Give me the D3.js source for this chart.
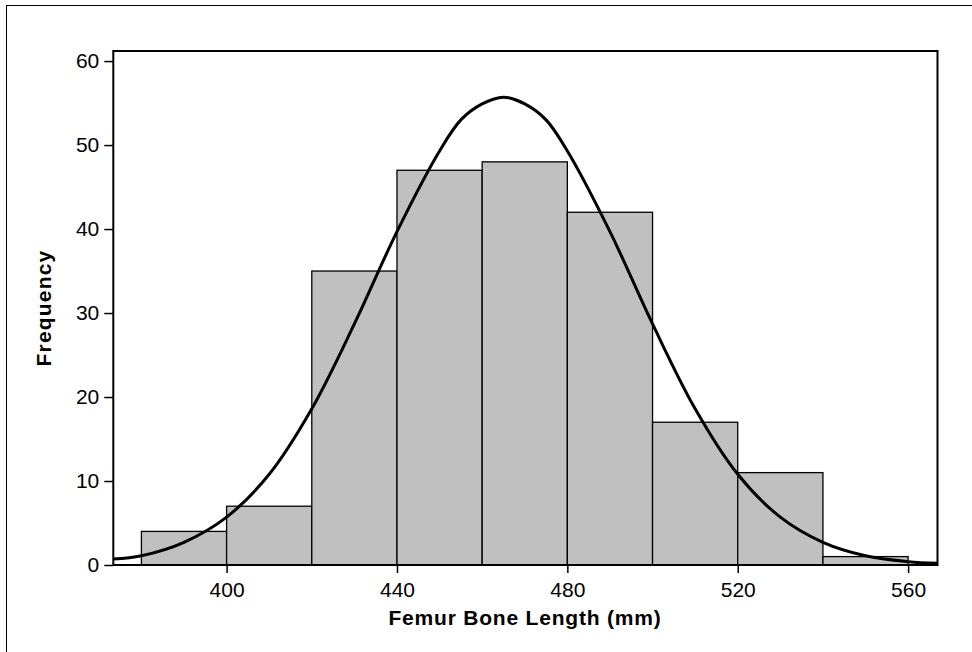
<!DOCTYPE html>
<html>
<head>
<meta charset="utf-8">
<script src="https://cdn.jsdelivr.net/npm/d3@7"></script>
<style>
  html, body { margin: 0; padding: 0; background: #fff; }
  svg { display: block; font-family: "Liberation Sans", Arial, sans-serif; }
</style>
</head>
<body>
<svg id="chart" width="972" height="652"></svg>
<script>
// Histogram bins (lower edge) and frequencies
const binStarts = [380, 400, 420, 440, 460, 480, 500, 520, 540];
const binWidth = 20;
const frequencies = [4, 7, 35, 47, 48, 42, 17, 11, 1];

// Fitted normal curve
const curveX = [373.4, 380, 390, 400, 410, 420, 430, 440, 450, 455, 460, 465, 470, 475, 480, 490, 500, 510, 520, 530, 540, 550, 560, 566.9];
const curveY = [0.7, 1.1, 2.7, 5.7, 10.8, 18.6, 28.7, 39.7, 49.3, 53.0, 54.9, 55.7, 54.9, 53.0, 49.3, 39.7, 28.7, 18.6, 10.8, 5.7, 2.7, 1.1, 0.4, 0.2];

// Tick values
const xTicks = [400, 440, 480, 520, 560];
const yTicks = [0, 10, 20, 30, 40, 50, 60];

const xLabel = "Femur Bone Length (mm)";
const yLabel = "Frequency";

const svg = d3.select("#chart");
const pL = 113.3, pR = 937.5, pT = 51, pB = 565;

const x = d3.scaleLinear().domain([373.4, 566.9]).range([pL, pR]);
const y = d3.scaleLinear().domain([0, 61.2]).range([pB, pT]);

// outer border
svg.append("rect")
  .attr("x", 6.5).attr("y", 5.5).attr("width", 1200).attr("height", 1200)
  .attr("fill", "none").attr("stroke", "#000").attr("stroke-width", 1);

const plot = svg.append("g");
plot.append("defs").append("clipPath").attr("id", "clip")
  .append("rect").attr("x", pL).attr("y", pT).attr("width", pR - pL).attr("height", pB - pT);

// bars
plot.append("g").selectAll("rect")
  .data(binStarts.map((s, i) => ({ s, v: frequencies[i] })))
  .join("rect")
  .attr("x", d => x(d.s))
  .attr("y", d => y(d.v))
  .attr("width", d => x(d.s + binWidth) - x(d.s))
  .attr("height", d => y(0) - y(d.v))
  .attr("fill", "#c0c0c0")
  .attr("stroke", "#000")
  .attr("stroke-width", 1.3);

// curve
const line = d3.line().x(d => x(d[0])).y(d => y(d[1])).curve(d3.curveCatmullRom);
plot.append("path")
  .datum(curveX.map((v, i) => [v, curveY[i]]))
  .attr("clip-path", "url(#clip)")
  .attr("d", line)
  .attr("fill", "none")
  .attr("stroke", "#000")
  .attr("stroke-width", 3);

// frame
svg.append("rect")
  .attr("x", pL).attr("y", pT).attr("width", pR - pL).attr("height", pB - pT)
  .attr("fill", "none").attr("stroke", "#000").attr("stroke-width", 2);

// axes
const xAxis = d3.axisBottom(x).tickValues(xTicks).tickSize(8).tickPadding(9).tickSizeOuter(0);
const gx = svg.append("g").attr("transform", `translate(0,${pB})`).call(xAxis);
gx.attr("font-size", 21).attr("font-family", "Liberation Sans, Arial, sans-serif");
gx.select(".domain").remove();
gx.selectAll("line").attr("stroke", "#000").attr("stroke-width", 1.5);
gx.selectAll("text").attr("fill", "#000");

const yAxis = d3.axisLeft(y).tickValues(yTicks).tickSize(9).tickPadding(5).tickSizeOuter(0);
const gy = svg.append("g").attr("transform", `translate(${pL},0)`).call(yAxis);
gy.attr("font-size", 21).attr("font-family", "Liberation Sans, Arial, sans-serif");
gy.select(".domain").remove();
gy.selectAll("line").attr("stroke", "#000").attr("stroke-width", 1.5);
gy.selectAll("text").attr("fill", "#000");

// axis titles
svg.append("text")
  .attr("x", 525).attr("y", 625)
  .attr("text-anchor", "middle")
  .attr("font-size", 21).attr("font-weight", "bold")
  .attr("letter-spacing", 0.8)
  .text(xLabel);

svg.append("text")
  .attr("transform", `translate(51,${(pT + pB) / 2}) rotate(-90)`)
  .attr("text-anchor", "middle")
  .attr("font-size", 21).attr("font-weight", "bold")
  .attr("letter-spacing", 1.2)
  .text(yLabel);
</script>
</body>
</html>
